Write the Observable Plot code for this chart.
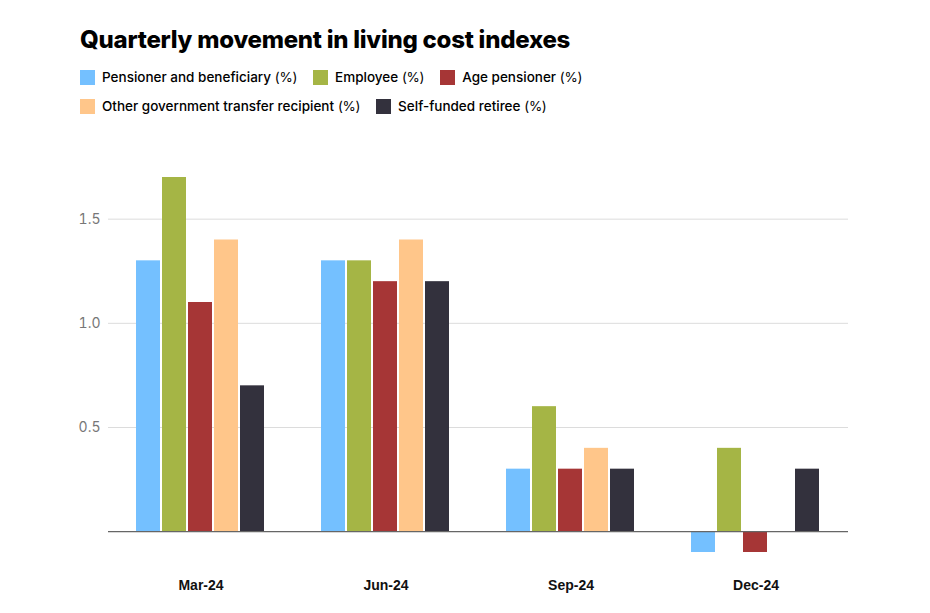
<!DOCTYPE html>
<html>
<head>
<meta charset="utf-8">
<script src="https://cdn.jsdelivr.net/npm/d3@7"></script>
<script src="https://cdn.jsdelivr.net/npm/@observablehq/plot@0.6"></script>
<style>
  html, body { margin: 0; padding: 0; background: #fff; }
  #wrap { width: 930px; }
  #header { height: 125px; box-sizing: border-box; padding: 26px 0 0 80px; font-family: Inter, "Noto Sans", sans-serif; color: #000; }
  #title { font-size: 24px; font-weight: 800; letter-spacing: -0.25px; line-height: 28px; margin: 0; }
  #legend { display: flex; flex-wrap: wrap; width: 560px; column-gap: 16px; row-gap: 9px; margin-top: 13px; }
  .item { display: flex; align-items: center; font-size: 13.5px; line-height: 20px; white-space: nowrap; }
  .sw { width: 15px; height: 15px; margin-right: 7px; }
  .lab { font-weight: 500; }
  .pct { font-weight: 400; letter-spacing: -0.3px; }
  svg { display: block; }
</style>
</head>
<body>
<div id="wrap">
  <div id="header">
    <div id="title">Quarterly movement in living cost indexes</div>
    <div id="legend"></div>
  </div>
  <div id="chart"></div>
</div>
<script>
const quarters = ["Mar-24", "Jun-24", "Sep-24", "Dec-24"];
const seriesNames = [
  "Pensioner and beneficiary",
  "Employee",
  "Age pensioner",
  "Other government transfer recipient",
  "Self-funded retiree"
];
const seriesColors = ["#74C0FF", "#A5B545", "#A63636", "#FFC68A", "#33313D"];
const pensionerBeneficiary = [1.3, 1.3, 0.3, -0.1];
const employee = [1.7, 1.3, 0.6, 0.4];
const agePensioner = [1.1, 1.2, 0.3, -0.1];
const otherGovTransfer = [1.4, 1.4, 0.4, 0];
const selfFundedRetiree = [0.7, 1.2, 0.3, 0.3];
const yTicks = [0.5, 1.0, 1.5];

const seriesValues = [pensionerBeneficiary, employee, agePensioner, otherGovTransfer, selfFundedRetiree];
const data = [];
seriesNames.forEach((s, i) => {
  quarters.forEach((q, j) => {
    data.push({ quarter: q, series: s, value: seriesValues[i][j] });
  });
});

// legend
const legend = document.getElementById("legend");
seriesNames.forEach((s, i) => {
  const item = document.createElement("div");
  item.className = "item";
  item.innerHTML = `<span class="sw" style="background:${seriesColors[i]}"></span><span class="lab">${s}</span>&nbsp;<span class="pct">(%)</span>`;
  legend.appendChild(item);
});

const chart = Plot.plot({
  width: 930,
  height: 488,
  marginTop: 52,
  marginBottom: 61,
  marginLeft: 108,
  marginRight: 82,
  style: { fontFamily: "Inter, 'Noto Sans', sans-serif", fontSize: "14px", background: "#fff" },
  fx: { domain: quarters, padding: 0, label: null },
  x: { domain: seriesNames, paddingInner: 0.06, paddingOuter: 1.05, axis: null },
  y: { domain: [-0.1, 1.7], label: null },
  color: { domain: seriesNames, range: seriesColors },
  marks: [
    Plot.gridY(yTicks, { stroke: "#dcdcdc", strokeOpacity: 1 }),
    Plot.axisY(yTicks, { tickSize: 0, tickPadding: 8, tickFormat: d3.format(".1f"), fill: "#777", fontSize: 14, label: null }),
    Plot.axisFx({ anchor: "bottom", tickSize: 0, tickPadding: 28, fontWeight: "bold", fontSize: 14, fill: "#111", fontFamily: "'Liberation Sans', Arial, sans-serif", label: null }),
    Plot.barY(data.filter(d => d.value !== 0), { fx: "quarter", x: "series", y: "value", fill: "series" }),
    Plot.ruleY([0], { stroke: "#666", strokeWidth: 1.2 })
  ]
});
document.getElementById("chart").appendChild(chart);
</script>
</body>
</html>
